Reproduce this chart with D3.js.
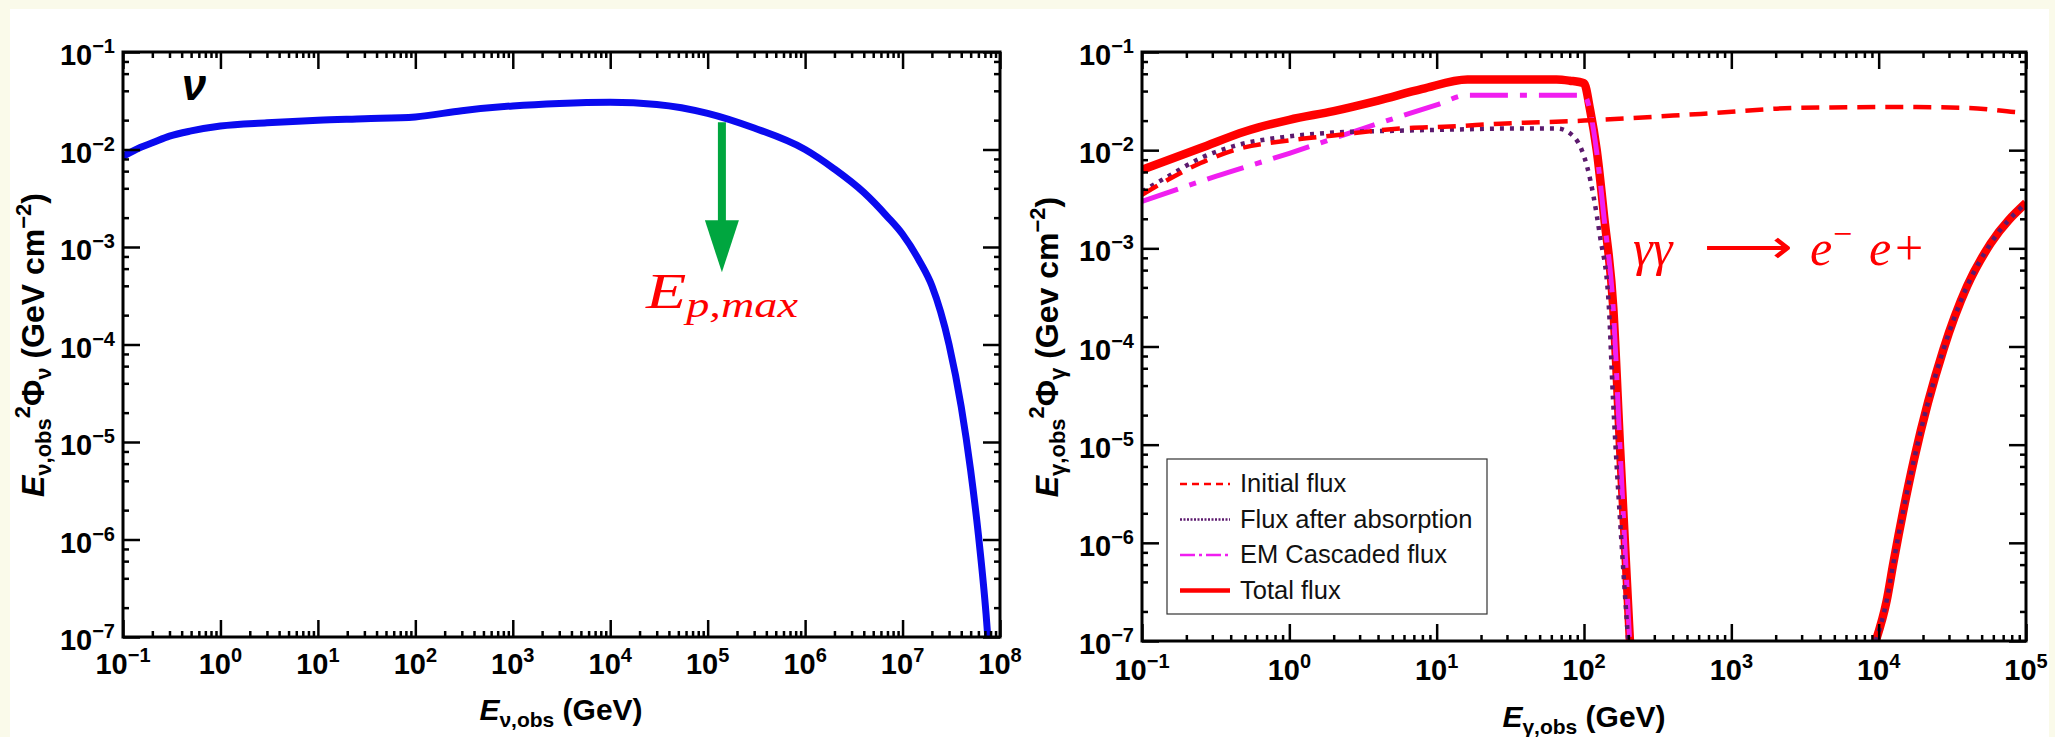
<!DOCTYPE html>
<html>
<head>
<meta charset="utf-8">
<script src="https://cdn.jsdelivr.net/npm/d3@7"></script>
<style>
body { margin: 0; background: #fafaea; }
svg { display: block; }
</style>
</head>
<body>
<svg id="chart" width="2055" height="737" font-family="'Liberation Sans', Arial, sans-serif"></svg>
<script>
// ---- data (GeV, GeV cm^-2) ----

// left panel: neutrino flux
var nuEnergy = [0.1, 0.15, 0.2, 0.3, 0.5, 1, 3, 10, 30, 100, 300, 1e3, 3e3, 1e4, 3e4,
                1e5, 3e5, 1e6, 2e6, 4e6, 7e6, 1e7, 1.5e7, 2e7, 3e7, 4e7, 5e7, 6e7, 7.2e7, 7.6e7];
var nuFlux = [8.5e-3, 1.05e-2, 1.17e-2, 1.37e-2, 1.55e-2, 1.74e-2, 1.88e-2, 2.0e-2, 2.07e-2,
              2.16e-2, 2.5e-2, 2.8e-2, 2.97e-2, 3.05e-2, 2.9e-2, 2.35e-2, 1.66e-2, 1.0e-2,
              6.3e-3, 3.63e-3, 2.04e-3, 1.35e-3, 7.1e-4, 4.0e-4, 1.0e-4, 2.3e-5, 5.1e-6, 1.12e-6,
              1.7e-7, 8.3e-8];

// green arrow marking E_p,max
var arrowE = 1.4e5, arrowTop = 1.9e-2, arrowTip = 5.5e-4;

// right panel: gamma-ray fluxes
var initE = [0.1, 0.15, 0.25, 0.42, 1, 2, 5.6, 12.3, 27, 100, 620, 2950, 14000, 40000, 83000, 1e5];
var initFlux = [3.5e-3, 5.0e-3, 7.4e-3, 1.0e-2, 1.26e-2, 1.41e-2, 1.66e-2, 1.74e-2, 1.86e-2,
                2.0e-2, 2.34e-2, 2.7e-2, 2.75e-2, 2.7e-2, 2.45e-2, 2.4e-2];

var absE = [0.1, 0.15, 0.25, 0.42, 1, 2, 5.6, 12.3, 31.6, 66, 85, 96.6, 105, 116, 128.5,
            146.6, 157.4, 181, 199.5];
var absFlux = [3.8e-3, 5.4e-3, 8.3e-3, 1.1e-2, 1.38e-2, 1.51e-2, 1.58e-2, 1.62e-2, 1.66e-2,
               1.66e-2, 1.38e-2, 1.0e-2, 6.8e-3, 3.4e-3, 1.32e-3, 2.95e-4, 2.9e-5, 8.5e-7, 1e-7];

var casE = [0.1, 0.316, 1, 3.16, 10, 16.2, 31.6, 100, 110, 122, 137, 158, 176, 190, 204];
var casFlux = [3.0e-3, 5.4e-3, 9.3e-3, 1.66e-2, 2.9e-2, 3.63e-2, 3.63e-2, 3.63e-2, 2.5e-2,
               9.5e-3, 2.0e-3, 2.4e-4, 8.5e-6, 8.5e-7, 1e-7];

var totE = [0.1, 0.25, 0.5, 1, 2, 4, 8, 16.2, 40, 65, 80, 100, 110, 122, 137, 158, 176, 205];
var totFlux = [6.3e-3, 1.05e-2, 1.55e-2, 2.04e-2, 2.5e-2, 3.2e-2, 4.2e-2, 5.25e-2, 5.25e-2,
               5.25e-2, 5.1e-2, 4.8e-2, 2.57e-2, 1.0e-2, 2.1e-3, 2.5e-4, 8.9e-6, 1e-7];

// high energy branch (total flux and flux after absorption coincide)
var highE = [9550, 11350, 12600, 17400, 27500, 39800, 57500, 1e5];
var highFlux = [1e-7, 2.6e-7, 6.3e-7, 7.1e-6, 9.3e-5, 4.1e-4, 1.12e-3, 2.9e-3];

var legendLabels = ["Initial flux", "Flux after absorption", "EM Cascaded flux", "Total flux"];

// ---- colours ----
var blue = "#0a0aef", red = "#ff0000", magenta = "#f01ef0", purple = "#5c1a6e", green = "#00a63f";
var serif = "'Liberation Serif', 'Times New Roman', serif";

var svg = d3.select("#chart");

svg.append("rect").attr("width", 2055).attr("height", 737).attr("fill", "#fafaea");
svg.append("rect").attr("x", 10).attr("y", 9).attr("width", 2039).attr("height", 728).attr("fill", "#fff");

// scales
var xL = d3.scaleLog().domain([1e-1, 1e8]).range([123, 1000]);
var yL = d3.scaleLog().domain([1e-7, 1e-1]).range([637, 52]);
var xR = d3.scaleLog().domain([1e-1, 1e5]).range([1142, 2026]);
var yR = d3.scaleLog().domain([1e-7, 1e-1]).range([641, 52]);

function decades(dom) {
  var out = [];
  for (var k = Math.round(Math.log10(dom[0])); k <= Math.round(Math.log10(dom[1])); k++) out.push(k);
  return out;
}
function minors(dom, mults) {
  var out = [], ks = decades(dom);
  ks.slice(0, -1).forEach(function(k) {
    mults.forEach(function(m) { out.push(+(m + "e" + k)); });
  });
  return out;
}
function expText(k) { return k < 0 ? "\u2212" + (-k) : "" + k; }

// frame with inward ticks on all four sides plus power-of-ten labels
function drawFrame(g, x, y, xLabelY) {
  var xr = x.range(), yr = y.range();
  var xMaj = decades(x.domain()).map(function(k) { return +("1e" + k); });
  var yMaj = decades(y.domain()).map(function(k) { return +("1e" + k); });
  var xMin = minors(x.domain(), [2, 3, 4, 5, 6, 7, 8, 9]);
  var yMin = minors(y.domain(), [2, 4, 6, 8]);

  var axes = [
    [d3.axisBottom(x), "translate(0," + yr[0] + ")", xMaj, xMin],
    [d3.axisTop(x), "translate(0," + yr[1] + ")", xMaj, xMin],
    [d3.axisLeft(y), "translate(" + xr[0] + ",0)", yMaj, yMin],
    [d3.axisRight(y), "translate(" + xr[1] + ",0)", yMaj, yMin]
  ];
  axes.forEach(function(a) {
    g.append("g").attr("transform", a[1])
      .call(a[0].tickValues(a[2]).tickSize(-17).tickSizeOuter(0).tickFormat(""));
    g.append("g").attr("transform", a[1])
      .call(a[0].tickValues(a[3]).tickSize(-6).tickSizeOuter(0).tickFormat(""));
  });
  g.selectAll(".domain").remove();
  g.selectAll(".tick line").attr("stroke", "#000").attr("stroke-width", 2.5);

  g.append("rect")
    .attr("x", xr[0]).attr("y", yr[1])
    .attr("width", xr[1] - xr[0]).attr("height", yr[0] - yr[1])
    .attr("fill", "none").attr("stroke", "#000").attr("stroke-width", 3);

  // x tick labels
  decades(x.domain()).forEach(function(k) {
    var t = g.append("text").attr("x", x(+("1e" + k))).attr("y", xLabelY)
      .attr("text-anchor", "middle").attr("font-size", 29).attr("font-weight", "bold");
    t.append("tspan").text("10");
    t.append("tspan").attr("dy", -12).attr("font-size", 20).text(expText(k));
  });
  // y tick labels
  decades(y.domain()).forEach(function(k) {
    var t = g.append("text").attr("x", xr[0] - 8).attr("y", y(+("1e" + k)) + 13)
      .attr("text-anchor", "end").attr("font-size", 29).attr("font-weight", "bold");
    t.append("tspan").text("10");
    t.append("tspan").attr("dy", -12).attr("font-size", 20).text(expText(k));
  });
}

function clipFor(id, x, y) {
  svg.append("clipPath").attr("id", id).append("rect")
    .attr("x", x.range()[0]).attr("y", y.range()[1])
    .attr("width", x.range()[1] - x.range()[0]).attr("height", y.range()[0] - y.range()[1]);
}

function pairs(xs, ys) { return xs.map(function(v, i) { return [v, ys[i]]; }); }

// x axis title:  E_{p,obs} (GeV)
function xTitle(g, cx, cy, particle) {
  var t = g.append("text").attr("x", cx).attr("y", cy).attr("text-anchor", "middle")
    .attr("font-size", 30).attr("font-weight", "bold");
  t.append("tspan").attr("font-style", "italic").text("E");
  t.append("tspan").attr("font-size", 21).attr("dy", 7).text(particle + ",obs");
  t.append("tspan").attr("dy", -7).text(" (GeV)");
}

// y axis title:  E_{p,obs}^2 Phi_p (unit cm^-2), rotated
function yTitle(g, bx, cy, particle, unit) {
  var t = g.append("text").attr("transform", "translate(" + bx + "," + cy + ") rotate(-90)")
    .attr("text-anchor", "middle").attr("font-size", 32).attr("font-weight", "bold");
  t.append("tspan").attr("font-style", "italic").text("E");
  t.append("tspan").attr("font-size", 22).attr("dy", 7).text(particle + ",obs");
  t.append("tspan").attr("font-size", 22).attr("dy", -21).text("2");
  t.append("tspan").attr("dy", 14).text("\u03a6");
  t.append("tspan").attr("font-size", 22).attr("dy", 7).text(particle);
  t.append("tspan").attr("dy", -7).text(" (" + unit + " cm");
  t.append("tspan").attr("font-size", 22).attr("dy", -13).text("\u22122");
  t.append("tspan").attr("dy", 13).text(")");
}

// ================= left panel =================
var left = svg.append("g");
clipFor("clipL", xL, yL);

var lineL = d3.line()
  .x(function(d) { return xL(d[0]); })
  .y(function(d) { return yL(d[1]); })
  .curve(d3.curveMonotoneX);

left.append("path")
  .datum(pairs(nuEnergy, nuFlux))
  .attr("clip-path", "url(#clipL)")
  .attr("d", lineL)
  .attr("fill", "none").attr("stroke", blue).attr("stroke-width", 7);

// arrow: shaft then head
var ax = xL(arrowE), headLen = 52;
left.append("line")
  .attr("x1", ax).attr("x2", ax)
  .attr("y1", yL(arrowTop)).attr("y2", yL(arrowTip) - headLen + 2)
  .attr("stroke", green).attr("stroke-width", 8);
left.append("path")
  .attr("d", "M" + (ax - 17) + "," + (yL(arrowTip) - headLen) + "L" + (ax + 17) + "," + (yL(arrowTip) - headLen) +
             "L" + ax + "," + yL(arrowTip) + "Z")
  .attr("fill", green);

var ep = left.append("text")
  .attr("x", ax).attr("y", yL(arrowTip) + 36)
  .attr("text-anchor", "middle")
  .attr("font-family", serif)
  .attr("font-style", "italic").attr("font-size", 50).attr("fill", red)
  .attr("textLength", 152).attr("lengthAdjust", "spacingAndGlyphs");
ep.append("tspan").text("E");
ep.append("tspan").attr("font-size", 35).attr("dy", 9).text("p,max");

left.append("text")
  .attr("x", xL(0.4)).attr("y", yL(3.2e-2))
  .attr("font-size", 44).attr("font-weight", "bold").attr("font-style", "italic")
  .text("\u03bd");

drawFrame(left, xL, yL, 674);
xTitle(left, 561, 720, "\u03bd");
yTitle(left, 44, 345, "\u03bd", "GeV");

// ================= right panel =================
var right = svg.append("g");
clipFor("clipR", xR, yR);

var lineR = d3.line()
  .x(function(d) { return xR(d[0]); })
  .y(function(d) { return yR(d[1]); })
  .curve(d3.curveMonotoneX);

var styles = [
  { dash: "18,10", color: red, width: 4.5 },
  { dash: "4,6", color: purple, width: 4.5 },
  { dash: "38,12,7,12", color: magenta, width: 5 },
  { dash: null, color: red, width: 8.5 }
];

var curves = [
  [pairs(totE, totFlux), styles[3]],
  [pairs(highE, highFlux), styles[3]],
  [pairs(casE, casFlux), styles[2]],
  [pairs(absE, absFlux), styles[1]],
  [pairs(highE, highFlux), styles[1]],
  [pairs(initE, initFlux), styles[0]]
];

curves.forEach(function(c) {
  right.append("path")
    .datum(c[0])
    .attr("clip-path", "url(#clipR)")
    .attr("d", lineR)
    .attr("fill", "none")
    .attr("stroke", c[1].color)
    .attr("stroke-width", c[1].width)
    .attr("stroke-dasharray", c[1].dash);
});

// gamma gamma -> e- e+ annotation, pieces placed from one anchor
var gx = xR(215), gy = yR(6.8e-4);
var ann = right.append("g").attr("fill", red).attr("font-family", serif).attr("font-size", 50);
ann.append("text").attr("x", gx).attr("y", gy).attr("font-style", "italic").text("\u03b3\u03b3");
ann.append("text").attr("x", gx + 115).attr("y", gy - 2)
  .attr("text-anchor", "middle")
  .attr("font-family", "'DejaVu Sans', sans-serif").attr("font-size", 48)
  .attr("transform", "translate(" + (gx + 115) + ",0) scale(1.3,1) translate(" + -(gx + 115) + ",0)")
  .text("\u27f6");
ann.append("text").attr("x", gx + 177).attr("y", gy).attr("font-style", "italic").text("e");
ann.append("text").attr("x", gx + 200).attr("y", gy - 20).attr("font-size", 34).text("\u2212");
ann.append("text").attr("x", gx + 236).attr("y", gy).attr("font-style", "italic").text("e");
ann.append("text").attr("x", gx + 262).attr("y", gy).text("+");

// legend
var lg = right.append("g");
lg.append("rect").attr("x", 1167).attr("y", 459).attr("width", 320).attr("height", 155)
  .attr("fill", "#fff").attr("stroke", "#333").attr("stroke-width", 1.2);
var legendStyles = [
  { dash: "7,5", color: red, width: 2.5 },
  { dash: "2,1.5", color: purple, width: 2.5 },
  { dash: "15,4,3,4", color: magenta, width: 2.5 },
  { dash: null, color: red, width: 4.5 }
];
legendLabels.forEach(function(lab, i) {
  var by = 492 + i * 35.5;
  lg.append("line").attr("x1", 1180).attr("x2", 1230).attr("y1", by - 8).attr("y2", by - 8)
    .attr("stroke", legendStyles[i].color).attr("stroke-width", legendStyles[i].width)
    .attr("stroke-dasharray", legendStyles[i].dash);
  lg.append("text").attr("x", 1240).attr("y", by).attr("font-size", 25.5).attr("fill", "#111").text(lab);
});

drawFrame(right, xR, yR, 680);
xTitle(right, 1584, 727, "\u03b3");
yTitle(right, 1058, 347, "\u03b3", "Gev");
</script>
</body>
</html>
